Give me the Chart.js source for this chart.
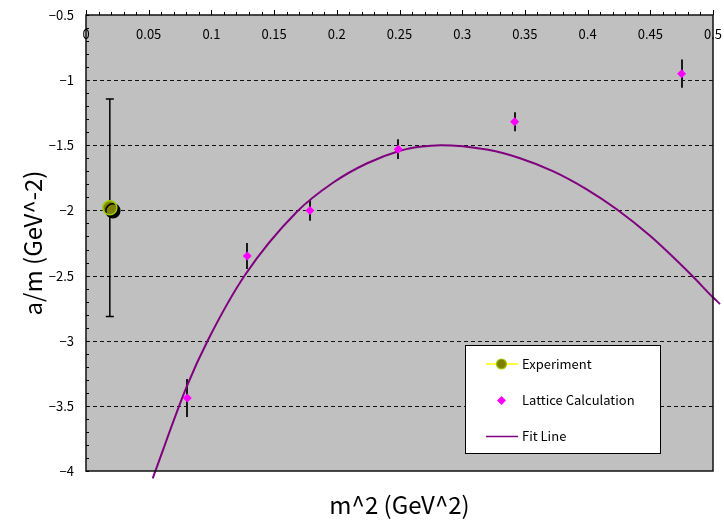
<!DOCTYPE html>
<html>
<head>
<meta charset="utf-8">
<script src="https://cdn.jsdelivr.net/npm/chart.js@4/dist/chart.umd.min.js"></script>
<style>
  html, body { margin: 0; padding: 0; background: #fff; }
  #wrap { width: 724px; height: 525px; }
</style>
</head>
<body>
<div id="wrap"><canvas id="grafico"></canvas></div>
<script>
// ticks
const xTicks = [0, 0.05, 0.1, 0.15, 0.2, 0.25, 0.3, 0.35, 0.4, 0.45, 0.5];
const yTicks = [-4, -3.5, -3, -2.5, -2, -1.5, -1, -0.5];

// experiment
const expX = [0.019];
const expY = [-1.98];
const expErr = [0.835];

// lattice calculation
const latX = [0.0808, 0.1286, 0.1786, 0.249, 0.3418, 0.475];
const latY = [-3.44, -2.35, -2.00, -1.53, -1.32, -0.95];
const latErr = [0.146, 0.10, 0.08, 0.076, 0.073, 0.108];

// fit line
const fitX = [0.0532, 0.0803, 0.0973, 0.1268, 0.168, 0.1972, 0.2238, 0.2504, 0.2663, 0.283, 0.3195, 0.3461, 0.3727, 0.3993, 0.4232, 0.4498, 0.483, 0.4995, 0.5056];
const fitY = [-4.056, -3.353, -2.995, -2.496, -2.012, -1.786, -1.640, -1.542, -1.511, -1.499, -1.533, -1.599, -1.700, -1.838, -1.991, -2.195, -2.498, -2.663, -2.718];

const FONT = "'Noto Sans CJK JP', 'Liberation Sans', sans-serif";
const menos = v => String(v).replace('-', '\u2212');

function pontos(xs, ys) {
  return xs.map((x, i) => ({ x: x, y: ys[i] }));
}

// fundo cinza, grade tracejada, barras de erro, moldura, ticks e legenda
const desenhoExcel = {
  id: 'desenhoExcel',
  beforeDraw(chart) {
    const { ctx, chartArea: a } = chart;
    ctx.save();
    ctx.fillStyle = '#fff';
    ctx.fillRect(0, 0, chart.width, chart.height);
    ctx.fillStyle = '#C0C0C0';
    ctx.fillRect(a.left, a.top, a.right - a.left, a.bottom - a.top);
    ctx.restore();
  },
  beforeDatasetsDraw(chart) {
    const { ctx, chartArea: a, scales: { x, y } } = chart;
    ctx.save();
    ctx.strokeStyle = '#111';
    ctx.lineWidth = 1;
    ctx.setLineDash([4, 3]);
    yTicks.slice(1, -1).forEach(v => {
      const py = Math.round(y.getPixelForValue(v)) + 0.5;
      ctx.beginPath();
      ctx.moveTo(a.left, py);
      ctx.lineTo(a.right, py);
      ctx.stroke();
    });
    ctx.setLineDash([]);

    // barras de erro - experimento (com tampas)
    ctx.strokeStyle = '#000';
    ctx.lineWidth = 1.5;
    expX.forEach((v, i) => {
      const px = x.getPixelForValue(v);
      const t = y.getPixelForValue(expY[i] + expErr[i]);
      const b = y.getPixelForValue(expY[i] - expErr[i]);
      ctx.beginPath();
      ctx.moveTo(px, t); ctx.lineTo(px, b);
      ctx.moveTo(px - 4, t); ctx.lineTo(px + 4, t);
      ctx.moveTo(px - 4, b); ctx.lineTo(px + 4, b);
      ctx.stroke();
    });

    // barras de erro - rede
    ctx.strokeStyle = '#1a1a1a';
    ctx.lineWidth = 2;
    latX.forEach((v, i) => {
      const px = Math.round(x.getPixelForValue(v));
      ctx.beginPath();
      ctx.moveTo(px, y.getPixelForValue(latY[i] + latErr[i]));
      ctx.lineTo(px, y.getPixelForValue(latY[i] - latErr[i]));
      ctx.stroke();
    });
    ctx.restore();
  },
  beforeDatasetDraw(chart, args) {
    if (args.index === 0) {
      const ctx = chart.ctx;
      ctx.save();
      ctx.shadowColor = '#000';
      ctx.shadowOffsetX = 3;
      ctx.shadowOffsetY = 3;
      ctx.shadowBlur = 0;
    }
  },
  afterDatasetDraw(chart, args) {
    if (args.index === 0) chart.ctx.restore();
  },
  afterDraw(chart) {
    const { ctx, chartArea: a, scales: { x, y } } = chart;
    ctx.save();
    // moldura
    ctx.strokeStyle = '#111';
    ctx.lineWidth = 1.5;
    ctx.strokeRect(a.left, a.top, a.right - a.left, a.bottom - a.top);

    // ticks x no topo (para fora)
    ctx.lineWidth = 1;
    ctx.strokeStyle = '#000';
    for (let i = 0; i <= 50; i++) {
      const px = Math.round(x.getPixelForValue(i * 0.01)) + 0.5;
      const len = i % 5 === 0 ? 5 : 3;
      ctx.beginPath();
      ctx.moveTo(px, a.top);
      ctx.lineTo(px, a.top - len);
      ctx.stroke();
    }
    // ticks y menores (para dentro)
    for (let i = 0; i <= 35; i++) {
      const py = Math.round(y.getPixelForValue(-4 + i * 0.1)) + 0.5;
      ctx.beginPath();
      ctx.moveTo(a.left, py);
      ctx.lineTo(a.left + 3, py);
      ctx.stroke();
    }

    // rótulos do eixo x, dentro da área
    ctx.fillStyle = '#000';
    ctx.font = '13px ' + FONT;
    ctx.textAlign = 'center';
    ctx.textBaseline = 'middle';
    xTicks.forEach(v => {
      ctx.fillText(String(v), x.getPixelForValue(v), a.top + 19);
    });

    // legenda
    const lx = 465, ly = 345, lw = 195, lh = 108;
    ctx.fillStyle = '#fff';
    ctx.fillRect(lx, ly, lw, lh);
    ctx.strokeStyle = '#000';
    ctx.lineWidth = 1;
    ctx.strokeRect(lx + 0.5, ly + 0.5, lw, lh);

    const ds = chart.data.datasets;
    const rows = [364, 400.5, 436.5];
    ctx.font = '13px ' + FONT;
    ctx.textAlign = 'left';
    ctx.fillStyle = '#000';
    ds.forEach((d, i) => ctx.fillText(d.label, 522, rows[i]));

    // experimento
    ctx.strokeStyle = '#FFFF00';
    ctx.lineWidth = 1.5;
    ctx.beginPath(); ctx.moveTo(486, rows[0]); ctx.lineTo(518, rows[0]); ctx.stroke();
    ctx.beginPath();
    ctx.arc(501.5, rows[0], 5, 0, Math.PI * 2);
    ctx.fillStyle = ds[0].pointBackgroundColor;
    ctx.fill();
    ctx.strokeStyle = ds[0].pointBorderColor;
    ctx.lineWidth = 1.2;
    ctx.stroke();
    // rede
    ctx.fillStyle = ds[1].pointBackgroundColor;
    ctx.beginPath();
    ctx.moveTo(501.5, rows[1] - 4.5);
    ctx.lineTo(506, rows[1]);
    ctx.lineTo(501.5, rows[1] + 4.5);
    ctx.lineTo(497, rows[1]);
    ctx.closePath();
    ctx.fill();
    // ajuste
    ctx.strokeStyle = ds[2].borderColor;
    ctx.lineWidth = 1.5;
    ctx.beginPath(); ctx.moveTo(486, rows[2]); ctx.lineTo(518, rows[2]); ctx.stroke();
    ctx.restore();
  }
};

new Chart(document.getElementById('grafico'), {
  type: 'scatter',
  data: {
    datasets: [{
      label: 'Experiment',
      data: pontos(expX, expY),
      pointRadius: 7,
      pointHoverRadius: 7,
      pointBackgroundColor: '#808000',
      pointBorderColor: '#99CC00',
      pointBorderWidth: 1.5,
      showLine: false
    }, {
      label: 'Lattice Calculation',
      data: pontos(latX, latY),
      pointStyle: 'rectRot',
      pointRadius: 4.5,
      pointHoverRadius: 4.5,
      pointBackgroundColor: '#FF00FF',
      pointBorderWidth: 0,
      showLine: false
    }, {
      label: 'Fit Line',
      data: pontos(fitX, fitY),
      showLine: true,
      borderColor: '#800080',
      borderWidth: 2,
      pointRadius: 0,
      cubicInterpolationMode: 'monotone',
      clip: { left: 0, top: 0, right: 10, bottom: 10 }
    }]
  },
  options: {
    responsive: true,
    maintainAspectRatio: false,
    animation: false,
    events: [],
    layout: { padding: { top: 15, right: 11, left: 0, bottom: 0 } },
    plugins: { legend: { display: false }, tooltip: { enabled: false } },
    scales: {
      x: {
        type: 'linear',
        position: 'bottom',
        min: 0,
        max: 0.5,
        grid: { display: false, drawTicks: false },
        border: { display: false },
        ticks: { display: false },
        title: {
          display: true,
          text: 'm^2 (GeV^2)',
          color: '#000',
          font: { family: FONT, size: 24 },
          padding: { top: 6, bottom: 6 }
        },
        afterFit(scale) {
          scale.height = 54;
          scale.paddingLeft = 0;
          scale.paddingRight = 0;
        }
      },
      y: {
        type: 'linear',
        min: -4,
        max: -0.5,
        grid: { display: false, drawTicks: false },
        border: { display: false },
        afterBuildTicks(scale) { scale.ticks = yTicks.map(v => ({ value: v })); },
        ticks: {
          color: '#000',
          padding: 12,
          font: { family: FONT, size: 13 },
          callback: v => menos(v)
        },
        title: {
          display: true,
          text: 'a/m (GeV^-2)',
          color: '#000',
          font: { family: FONT, size: 24 },
          padding: { top: 18, bottom: 18 }
        },
        afterFit(scale) {
          scale.width = 86;
          scale.paddingTop = 0;
          scale.paddingBottom = 0;
        }
      }
    }
  },
  plugins: [desenhoExcel]
});
</script>
</body>
</html>
